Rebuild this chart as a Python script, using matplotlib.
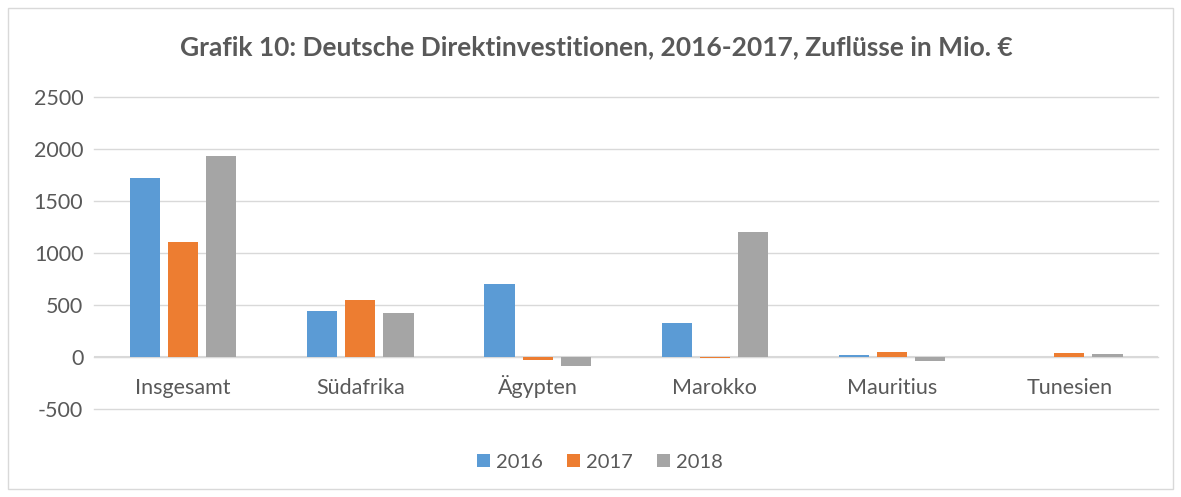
import matplotlib.pyplot as plt
import numpy as np
from matplotlib.patches import Rectangle
from matplotlib.transforms import offset_copy

plt.rcParams['font.family'] = ['Lato', 'DejaVu Sans']
plt.rcParams['axes.unicode_minus'] = False

laender = ['Insgesamt', 'Südafrika', 'Ägypten', 'Marokko', 'Mauritius', 'Tunesien']
jahre = ['2016', '2017', '2018']
werte_2016 = [1720, 440, 700, 330, 15, 0]
werte_2017 = [1110, 550, -25, -10, 45, 35]
werte_2018 = [1935, 425, -90, 1200, -40, 30]
farben = ['#5b9bd5', '#ed7d31', '#a5a5a5']
grau = '#595959'

fig = plt.figure(figsize=(11.81, 4.97), dpi=100)
ax = fig.add_axes([0.080, 0.177, 0.9005, 0.628])

x = np.arange(len(laender))
breite = 0.17
schritt = 0.215
for i, (werte, jahr) in enumerate(zip([werte_2016, werte_2017, werte_2018], jahre)):
    ax.bar(x + (i - 1) * schritt, werte, width=breite, color=farben[i], label=jahr, zorder=3)

ax.set_xlim(-0.5, len(laender) - 0.5)
ax.set_ylim(-500, 2500)
ax.set_yticks(range(-500, 2501, 500))
ax.set_xticks([])
ax.grid(axis='y', color='#d9d9d9', linewidth=1, zorder=0)
for gl in ax.get_ygridlines():
    gl.set_clip_on(False)
ax.axhline(0, color='#d9d9d9', linewidth=1.5, zorder=2)
for s in ax.spines.values():
    s.set_visible(False)
ax.tick_params(length=0, labelsize=15.5, colors=grau, pad=8)

# Kategorienamen direkt unter der Nulllinie (wie in Excel)
trans = offset_copy(ax.transData, fig=fig, x=0, y=-37, units='dots')
for xi, name in zip(x, laender):
    ax.text(xi, 0, name, transform=trans, ha='center', va='baseline', fontsize=15.5, color=grau)

fig.suptitle('Grafik 10: Deutsche Direktinvestitionen, 2016-2017, Zuflüsse in Mio. €',
             x=0.505, y=0.93, fontsize=19, fontweight='bold', color=grau)

leg = fig.legend(loc='center', bbox_to_anchor=(0.508, 0.07), ncol=3, frameon=False,
                 fontsize=14.5, handlelength=0.65, handleheight=0.65, handletextpad=0.3,
                 columnspacing=1.2)
for t in leg.get_texts():
    t.set_color(grau)

fig.patches.append(Rectangle((0.007, 0.016), 0.986, 0.968, transform=fig.transFigure,
                             fill=False, edgecolor='#d9d9d9', linewidth=1))

fig.savefig('out.png', dpi=100)
